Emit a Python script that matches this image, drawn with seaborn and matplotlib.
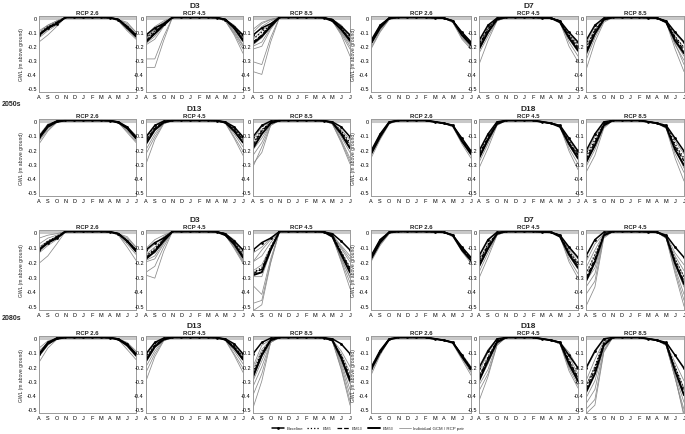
import numpy as np
import pandas as pd
import matplotlib
matplotlib.use('Agg')
import matplotlib.pyplot as plt
from matplotlib.lines import Line2D
import seaborn as sns

# ---------------------------------------------------------------------------
# Data: every curve is (A, S, O, M, J, J) -> the Aug-Oct recession and the
# May-Jul drawdown; the Nov-Apr part comes from the site plateau lists.
# ---------------------------------------------------------------------------
MONTHS = ['A', 'S', 'O', 'N', 'D', 'J', 'F', 'M', 'A', 'M', 'J', 'J']

PLATEAU_D3 = [0.005, 0.005, 0.005, 0.005, 0.005, 0.003]
PLATEAU_D13 = [0.005, 0.005, 0.005, 0.005, 0.005, 0.003]
PLATEAU_D7 = [0.005, 0.005, 0.005, 0.005, 0.003, 0.0]
PLATEAU_D18 = [0.005, 0.005, 0.005, 0.005, -0.005, -0.015]

BASELINE_D3 = (-0.12, -0.07, -0.04, -0.01, -0.06, -0.12)
BASELINE_D13 = (-0.11, -0.03, 0.0, -0.005, -0.04, -0.11)
BASELINE_D7 = (-0.16, -0.05, 0.0, -0.02, -0.10, -0.17)
BASELINE_D18 = (-0.21, -0.09, -0.005, -0.03, -0.12, -0.21)

# ---- 2050s D3
d3_50_r26 = [(-0.10, -0.05, -0.02, -0.01, -0.04, -0.10), (-0.11, -0.06, -0.03, -0.01, -0.05, -0.11),
             (-0.12, -0.07, -0.04, -0.01, -0.06, -0.12), (-0.13, -0.08, -0.04, -0.01, -0.07, -0.13),
             (-0.14, -0.09, -0.05, -0.02, -0.08, -0.14), (-0.17, -0.12, -0.06, -0.02, -0.09, -0.15),
             (-0.09, -0.05, -0.02, -0.01, -0.03, -0.10), (-0.12, -0.06, -0.03, -0.01, -0.07, -0.13)]
d3_50_r26_em = [(-0.11, -0.06, -0.03, -0.01, -0.06, -0.12), (-0.12, -0.07, -0.03, -0.01, -0.06, -0.12),
                (-0.12, -0.07, -0.04, -0.01, -0.07, -0.13)]
d3_50_r45 = [(-0.12, -0.06, -0.02, -0.01, -0.05, -0.12), (-0.13, -0.07, -0.03, -0.01, -0.06, -0.14),
             (-0.15, -0.09, -0.04, -0.01, -0.07, -0.15), (-0.17, -0.11, -0.05, -0.02, -0.08, -0.17),
             (-0.18, -0.13, -0.05, -0.02, -0.09, -0.19), (-0.19, -0.15, -0.06, -0.02, -0.11, -0.22),
             (-0.29, -0.29, -0.13, -0.02, -0.12, -0.25), (-0.35, -0.35, -0.16, -0.02, -0.10, -0.20),
             (-0.14, -0.08, -0.03, -0.01, -0.06, -0.13)]
d3_50_r45_em = [(-0.14, -0.09, -0.04, -0.01, -0.06, -0.14), (-0.16, -0.10, -0.04, -0.01, -0.07, -0.15),
                (-0.17, -0.11, -0.05, -0.01, -0.07, -0.16)]
d3_50_r85 = [(-0.13, -0.06, -0.02, -0.01, -0.06, -0.12), (-0.15, -0.09, -0.04, -0.01, -0.07, -0.14),
             (-0.17, -0.12, -0.05, -0.02, -0.08, -0.15), (-0.19, -0.14, -0.06, -0.02, -0.09, -0.17),
             (-0.20, -0.17, -0.07, -0.02, -0.10, -0.20), (-0.22, -0.20, -0.08, -0.02, -0.12, -0.27),
             (-0.31, -0.33, -0.14, -0.02, -0.11, -0.22), (-0.38, -0.40, -0.17, -0.02, -0.10, -0.18),
             (-0.10, -0.04, -0.01, -0.01, -0.05, -0.12), (-0.08, -0.03, -0.01, -0.01, -0.05, -0.13)]
d3_50_r85_em = [(-0.15, -0.10, -0.05, -0.01, -0.07, -0.14), (-0.17, -0.12, -0.05, -0.01, -0.08, -0.15),
                (-0.18, -0.13, -0.06, -0.02, -0.08, -0.16)]

# ---- 2050s D7
d7_50_r26 = [(-0.16, -0.05, 0.0, -0.02, -0.10, -0.17), (-0.17, -0.06, 0.0, -0.02, -0.11, -0.18),
             (-0.18, -0.07, -0.005, -0.02, -0.12, -0.19), (-0.19, -0.08, -0.01, -0.03, -0.13, -0.20),
             (-0.21, -0.09, -0.01, -0.03, -0.14, -0.21), (-0.22, -0.10, -0.01, -0.03, -0.15, -0.22)]
d7_50_r26_em = [(-0.17, -0.06, 0.0, -0.02, -0.11, -0.18), (-0.18, -0.06, 0.0, -0.02, -0.11, -0.18),
                (-0.18, -0.07, 0.0, -0.02, -0.12, -0.19)]
d7_50_r45 = [(-0.17, -0.06, 0.0, -0.02, -0.11, -0.18), (-0.19, -0.07, -0.005, -0.02, -0.12, -0.20),
             (-0.21, -0.09, -0.01, -0.03, -0.13, -0.22), (-0.23, -0.11, -0.01, -0.03, -0.15, -0.24),
             (-0.25, -0.13, -0.02, -0.03, -0.17, -0.27), (-0.33, -0.16, -0.02, -0.03, -0.20, -0.31)]
d7_50_r45_em = [(-0.19, -0.07, 0.0, -0.02, -0.12, -0.19), (-0.20, -0.08, -0.005, -0.02, -0.13, -0.21),
                (-0.22, -0.10, -0.01, -0.03, -0.14, -0.23)]
d7_50_r85 = [(-0.18, -0.06, 0.0, -0.02, -0.11, -0.18), (-0.21, -0.08, -0.01, -0.03, -0.13, -0.21),
             (-0.24, -0.10, -0.01, -0.03, -0.15, -0.24), (-0.27, -0.12, -0.02, -0.03, -0.17, -0.27),
             (-0.30, -0.14, -0.02, -0.03, -0.19, -0.30), (-0.37, -0.17, -0.03, -0.03, -0.22, -0.38),
             (-0.26, -0.12, -0.015, -0.03, -0.18, -0.33)]
d7_50_r85_em = [(-0.21, -0.08, -0.01, -0.02, -0.13, -0.21), (-0.23, -0.09, -0.01, -0.03, -0.14, -0.23),
                (-0.25, -0.11, -0.01, -0.03, -0.16, -0.25)]

# ---- 2050s D13
d13_50_r26 = [(-0.10, -0.02, 0.0, -0.005, -0.04, -0.10), (-0.11, -0.03, 0.0, -0.005, -0.05, -0.11),
              (-0.12, -0.04, -0.005, -0.01, -0.05, -0.12), (-0.13, -0.05, -0.005, -0.01, -0.06, -0.13),
              (-0.14, -0.06, -0.01, -0.01, -0.07, -0.14), (-0.16, -0.07, -0.01, -0.01, -0.08, -0.15)]
d13_50_r26_em = [(-0.11, -0.03, 0.0, -0.005, -0.05, -0.11), (-0.12, -0.03, 0.0, -0.005, -0.05, -0.12),
                 (-0.12, -0.04, -0.005, -0.01, -0.05, -0.12)]
d13_50_r45 = [(-0.12, -0.03, 0.0, -0.005, -0.05, -0.12), (-0.14, -0.05, -0.005, -0.01, -0.06, -0.13),
              (-0.16, -0.07, -0.01, -0.01, -0.07, -0.15), (-0.20, -0.09, -0.01, -0.01, -0.09, -0.18),
              (-0.23, -0.11, -0.015, -0.01, -0.11, -0.21), (-0.30, -0.13, -0.02, -0.015, -0.12, -0.24)]
d13_50_r45_em = [(-0.13, -0.04, -0.005, -0.01, -0.05, -0.12), (-0.14, -0.05, -0.005, -0.01, -0.06, -0.13),
                 (-0.16, -0.06, -0.01, -0.01, -0.07, -0.15)]
d13_50_r85 = [(-0.13, -0.04, -0.005, -0.01, -0.06, -0.13), (-0.16, -0.06, -0.01, -0.01, -0.07, -0.16),
              (-0.18, -0.09, -0.01, -0.01, -0.09, -0.19), (-0.20, -0.12, -0.02, -0.015, -0.11, -0.22),
              (-0.24, -0.15, -0.02, -0.015, -0.13, -0.26), (-0.30, -0.22, -0.03, -0.02, -0.15, -0.30),
              (-0.32, -0.18, -0.03, -0.02, -0.14, -0.28)]
d13_50_r85_em = [(-0.15, -0.06, -0.01, -0.01, -0.07, -0.15), (-0.17, -0.07, -0.01, -0.01, -0.08, -0.17),
                 (-0.19, -0.09, -0.015, -0.01, -0.09, -0.19)]

# ---- 2050s D18
d18_50_r26 = [(-0.21, -0.09, -0.005, -0.03, -0.12, -0.21), (-0.22, -0.10, -0.01, -0.03, -0.13, -0.22),
              (-0.23, -0.11, -0.01, -0.03, -0.14, -0.23), (-0.24, -0.12, -0.01, -0.04, -0.15, -0.24),
              (-0.26, -0.13, -0.02, -0.04, -0.16, -0.26)]
d18_50_r26_em = [(-0.22, -0.10, -0.01, -0.03, -0.13, -0.22), (-0.22, -0.10, -0.01, -0.03, -0.13, -0.22),
                 (-0.23, -0.11, -0.01, -0.03, -0.14, -0.23)]
d18_50_r45 = [(-0.22, -0.10, -0.01, -0.03, -0.13, -0.22), (-0.24, -0.12, -0.01, -0.03, -0.15, -0.24),
              (-0.26, -0.14, -0.02, -0.04, -0.17, -0.27), (-0.29, -0.16, -0.02, -0.04, -0.19, -0.30),
              (-0.33, -0.19, -0.03, -0.04, -0.21, -0.34)]
d18_50_r45_em = [(-0.23, -0.11, -0.01, -0.03, -0.14, -0.23), (-0.24, -0.12, -0.01, -0.03, -0.15, -0.24),
                 (-0.26, -0.13, -0.02, -0.04, -0.16, -0.26)]
d18_50_r85 = [(-0.23, -0.11, -0.01, -0.03, -0.14, -0.23), (-0.26, -0.14, -0.02, -0.04, -0.17, -0.27),
              (-0.29, -0.17, -0.03, -0.04, -0.20, -0.31), (-0.32, -0.20, -0.04, -0.05, -0.23, -0.36),
              (-0.36, -0.24, -0.05, -0.05, -0.26, -0.42), (-0.30, -0.15, -0.02, -0.04, -0.19, -0.33)]
d18_50_r85_em = [(-0.25, -0.13, -0.02, -0.03, -0.16, -0.26), (-0.27, -0.15, -0.02, -0.04, -0.18, -0.28),
                 (-0.29, -0.17, -0.03, -0.04, -0.20, -0.31)]

# ---- 2080s D3
d3_80_r26 = [(-0.04, -0.02, -0.01, -0.01, -0.03, -0.10), (-0.08, -0.04, -0.02, -0.01, -0.04, -0.10),
             (-0.10, -0.06, -0.03, -0.01, -0.05, -0.11), (-0.12, -0.07, -0.04, -0.01, -0.06, -0.12),
             (-0.13, -0.08, -0.04, -0.01, -0.07, -0.13), (-0.14, -0.09, -0.05, -0.02, -0.08, -0.15),
             (-0.21, -0.16, -0.08, -0.02, -0.10, -0.19), (-0.11, -0.06, -0.03, -0.01, -0.05, -0.12)]
d3_80_r26_em = [(-0.11, -0.06, -0.03, -0.01, -0.06, -0.12), (-0.12, -0.07, -0.03, -0.01, -0.06, -0.12),
                (-0.12, -0.07, -0.04, -0.01, -0.06, -0.13)]
d3_80_r45 = [(-0.11, -0.05, -0.02, -0.01, -0.05, -0.12), (-0.13, -0.08, -0.03, -0.01, -0.06, -0.14),
             (-0.15, -0.10, -0.04, -0.01, -0.07, -0.15), (-0.16, -0.12, -0.05, -0.02, -0.08, -0.16),
             (-0.17, -0.14, -0.06, -0.02, -0.09, -0.18), (-0.19, -0.16, -0.07, -0.02, -0.10, -0.20),
             (-0.20, -0.18, -0.08, -0.02, -0.11, -0.21), (-0.27, -0.23, -0.10, -0.02, -0.10, -0.19),
             (-0.29, -0.31, -0.13, -0.02, -0.09, -0.17)]
d3_80_r45_em = [(-0.16, -0.11, -0.05, -0.01, -0.07, -0.15), (-0.17, -0.12, -0.05, -0.01, -0.08, -0.16),
                (-0.18, -0.13, -0.06, -0.02, -0.08, -0.17)]
d3_80_r85 = [(-0.14, -0.10, -0.04, -0.02, -0.09, -0.16), (-0.20, -0.16, -0.07, -0.02, -0.11, -0.20),
             (-0.26, -0.22, -0.10, -0.02, -0.13, -0.24), (-0.27, -0.25, -0.11, -0.03, -0.15, -0.28),
             (-0.28, -0.27, -0.12, -0.03, -0.17, -0.31), (-0.30, -0.30, -0.13, -0.03, -0.19, -0.34),
             (-0.36, -0.42, -0.18, -0.03, -0.20, -0.38), (-0.48, -0.46, -0.20, -0.03, -0.18, -0.30),
             (-0.53, -0.49, -0.21, -0.02, -0.15, -0.26), (-0.20, -0.12, -0.05, -0.02, -0.10, -0.18)]
d3_80_r85_em = [(-0.27, -0.24, -0.10, -0.02, -0.13, -0.24), (-0.28, -0.25, -0.11, -0.02, -0.14, -0.25),
                (-0.29, -0.27, -0.12, -0.03, -0.15, -0.27)]

# ---- 2080s D7
d7_80_r26 = [(-0.16, -0.05, 0.0, -0.02, -0.10, -0.17), (-0.17, -0.06, 0.0, -0.02, -0.11, -0.18),
             (-0.18, -0.07, -0.005, -0.02, -0.12, -0.19), (-0.19, -0.08, -0.01, -0.03, -0.12, -0.20),
             (-0.20, -0.09, -0.01, -0.03, -0.13, -0.21)]
d7_80_r26_em = [(-0.17, -0.06, 0.0, -0.02, -0.11, -0.18), (-0.17, -0.06, 0.0, -0.02, -0.11, -0.18),
                (-0.18, -0.07, 0.0, -0.02, -0.12, -0.19)]
d7_80_r45 = [(-0.17, -0.06, 0.0, -0.02, -0.11, -0.18), (-0.19, -0.08, -0.005, -0.02, -0.12, -0.20),
             (-0.21, -0.10, -0.01, -0.03, -0.14, -0.22), (-0.24, -0.12, -0.01, -0.03, -0.16, -0.25),
             (-0.27, -0.14, -0.02, -0.03, -0.18, -0.28), (-0.31, -0.17, -0.02, -0.03, -0.20, -0.31)]
d7_80_r45_em = [(-0.20, -0.08, -0.01, -0.02, -0.13, -0.21), (-0.21, -0.09, -0.01, -0.02, -0.14, -0.22),
                (-0.23, -0.11, -0.01, -0.03, -0.15, -0.24)]
d7_80_r85 = [(-0.20, -0.08, -0.01, -0.02, -0.14, -0.22), (-0.24, -0.12, -0.01, -0.03, -0.16, -0.26),
             (-0.28, -0.16, -0.02, -0.03, -0.18, -0.30), (-0.31, -0.20, -0.02, -0.03, -0.20, -0.33),
             (-0.33, -0.24, -0.03, -0.04, -0.22, -0.37), (-0.37, -0.28, -0.03, -0.04, -0.24, -0.42),
             (-0.42, -0.33, -0.03, -0.04, -0.26, -0.46), (-0.50, -0.37, -0.04, -0.04, -0.28, -0.50)]
d7_80_r85_em = [(-0.28, -0.15, -0.02, -0.03, -0.18, -0.30), (-0.31, -0.18, -0.02, -0.03, -0.20, -0.33),
                (-0.33, -0.20, -0.02, -0.03, -0.21, -0.35)]

# ---- 2080s D13
d13_80_r26 = [(-0.07, -0.02, 0.0, -0.005, -0.03, -0.09), (-0.09, -0.03, 0.0, -0.005, -0.04, -0.10),
              (-0.11, -0.03, 0.0, -0.005, -0.05, -0.11), (-0.12, -0.04, -0.005, -0.01, -0.05, -0.12),
              (-0.13, -0.05, -0.005, -0.01, -0.06, -0.13), (-0.17, -0.07, -0.01, -0.01, -0.08, -0.15)]
d13_80_r26_em = [(-0.11, -0.03, 0.0, -0.005, -0.05, -0.11), (-0.11, -0.04, 0.0, -0.005, -0.05, -0.12),
                 (-0.12, -0.04, -0.005, -0.01, -0.05, -0.12)]
d13_80_r45 = [(-0.12, -0.03, 0.0, -0.005, -0.05, -0.12), (-0.14, -0.05, -0.005, -0.01, -0.06, -0.13),
              (-0.17, -0.07, -0.01, -0.01, -0.07, -0.15), (-0.20, -0.09, -0.01, -0.01, -0.09, -0.18),
              (-0.24, -0.11, -0.015, -0.01, -0.11, -0.21), (-0.30, -0.13, -0.02, -0.015, -0.12, -0.24)]
d13_80_r45_em = [(-0.14, -0.04, -0.005, -0.01, -0.06, -0.13), (-0.15, -0.05, -0.005, -0.01, -0.06, -0.14),
                 (-0.16, -0.06, -0.01, -0.01, -0.07, -0.15)]
d13_80_r85 = [(-0.20, -0.05, -0.01, -0.01, -0.09, -0.20), (-0.22, -0.08, -0.01, -0.015, -0.11, -0.24),
              (-0.25, -0.10, -0.01, -0.015, -0.13, -0.28), (-0.28, -0.13, -0.02, -0.02, -0.15, -0.32),
              (-0.30, -0.16, -0.02, -0.02, -0.17, -0.36), (-0.34, -0.20, -0.03, -0.02, -0.19, -0.40),
              (-0.40, -0.25, -0.03, -0.02, -0.21, -0.44), (-0.49, -0.30, -0.03, -0.02, -0.22, -0.47)]
d13_80_r85_em = [(-0.24, -0.10, -0.01, -0.015, -0.12, -0.26), (-0.26, -0.11, -0.01, -0.015, -0.13, -0.28),
                 (-0.27, -0.12, -0.015, -0.015, -0.14, -0.30)]

# ---- 2080s D18
d18_80_r26 = [(-0.20, -0.08, -0.005, -0.03, -0.11, -0.20), (-0.21, -0.09, -0.005, -0.03, -0.12, -0.21),
              (-0.22, -0.10, -0.01, -0.03, -0.13, -0.22), (-0.24, -0.11, -0.01, -0.03, -0.14, -0.24),
              (-0.26, -0.12, -0.01, -0.04, -0.15, -0.26)]
d18_80_r26_em = [(-0.21, -0.09, -0.005, -0.03, -0.12, -0.21), (-0.22, -0.09, -0.01, -0.03, -0.12, -0.22),
                 (-0.22, -0.10, -0.01, -0.03, -0.13, -0.22)]
d18_80_r45 = [(-0.20, -0.08, -0.005, -0.03, -0.10, -0.21), (-0.24, -0.10, -0.01, -0.03, -0.13, -0.25),
              (-0.27, -0.14, -0.02, -0.03, -0.16, -0.28), (-0.30, -0.18, -0.03, -0.04, -0.19, -0.31),
              (-0.33, -0.22, -0.04, -0.04, -0.21, -0.33), (-0.37, -0.25, -0.05, -0.04, -0.23, -0.35),
              (-0.44, -0.27, -0.05, -0.04, -0.20, -0.30)]
d18_80_r45_em = [(-0.27, -0.13, -0.02, -0.03, -0.15, -0.27), (-0.28, -0.14, -0.02, -0.03, -0.16, -0.28),
                 (-0.30, -0.16, -0.03, -0.03, -0.18, -0.30)]
d18_80_r85 = [(-0.22, -0.10, -0.01, -0.03, -0.12, -0.22), (-0.30, -0.15, -0.02, -0.04, -0.17, -0.30),
              (-0.33, -0.20, -0.03, -0.04, -0.20, -0.35), (-0.38, -0.25, -0.05, -0.04, -0.23, -0.40),
              (-0.42, -0.30, -0.06, -0.05, -0.26, -0.45), (-0.46, -0.36, -0.08, -0.05, -0.28, -0.50),
              (-0.50, -0.43, -0.09, -0.05, -0.28, -0.53), (-0.53, -0.47, -0.10, -0.05, -0.27, -0.55)]
d18_80_r85_em = [(-0.34, -0.20, -0.03, -0.04, -0.20, -0.36), (-0.36, -0.22, -0.04, -0.04, -0.22, -0.38),
                 (-0.38, -0.25, -0.05, -0.04, -0.23, -0.40)]

RCP_50 = ['RCP 2.6', 'RCP 4.5', 'RCP 8.5']
RCP_80_TOP = ['RCP 2.6', 'RCP 4.5', 'RCP 4.5']
RCP_80_BOT = ['RCP 2.6', 'RCP 4.5', 'RCP 8.5']

SITES = {
    'D3': (BASELINE_D3, PLATEAU_D3), 'D7': (BASELINE_D7, PLATEAU_D7),
    'D13': (BASELINE_D13, PLATEAU_D13), 'D18': (BASELINE_D18, PLATEAU_D18),
}

# each row: two groups of (site, rcp labels, gcm lists, em lists)
ROWS = [
    [('D3', RCP_50, [d3_50_r26, d3_50_r45, d3_50_r85], [d3_50_r26_em, d3_50_r45_em, d3_50_r85_em]),
     ('D7', RCP_50, [d7_50_r26, d7_50_r45, d7_50_r85], [d7_50_r26_em, d7_50_r45_em, d7_50_r85_em])],
    [('D13', RCP_50, [d13_50_r26, d13_50_r45, d13_50_r85], [d13_50_r26_em, d13_50_r45_em, d13_50_r85_em]),
     ('D18', RCP_50, [d18_50_r26, d18_50_r45, d18_50_r85], [d18_50_r26_em, d18_50_r45_em, d18_50_r85_em])],
    [('D3', RCP_80_TOP, [d3_80_r26, d3_80_r45, d3_80_r85], [d3_80_r26_em, d3_80_r45_em, d3_80_r85_em]),
     ('D7', RCP_80_TOP, [d7_80_r26, d7_80_r45, d7_80_r85], [d7_80_r26_em, d7_80_r45_em, d7_80_r85_em])],
    [('D13', RCP_80_BOT, [d13_80_r26, d13_80_r45, d13_80_r85], [d13_80_r26_em, d13_80_r45_em, d13_80_r85_em]),
     ('D18', RCP_80_BOT, [d18_80_r26, d18_80_r45, d18_80_r85], [d18_80_r26_em, d18_80_r45_em, d18_80_r85_em])],
]


def full_curve(c, plateau):
    return list(c[:3]) + list(plateau) + list(c[3:])


# =============================================================================
# Layout (pixel boxes of the reference, 685 x 435)
# =============================================================================
W, H = 685, 435
ROW_PX = [(17, 93), (120, 197), (231, 311), (337, 414)]
COL_PX = [(39, 136), (146, 243), (253, 350), (371, 471), (479, 578), (586, 684)]

sns.set_theme(style='white')
plt.rcParams['font.family'] = ['Liberation Sans', 'DejaVu Sans']
plt.rcParams['mathtext.fontset'] = 'custom'
plt.rcParams['mathtext.rm'] = 'Liberation Sans'
plt.rcParams['mathtext.it'] = 'Liberation Sans'

fig = plt.figure(figsize=(W / 100, H / 100), dpi=100)
fig.patch.set_facecolor('white')

x = np.arange(12)
GCM_COLOR = '#8a8a8a'
EM_STYLES = [(':', 0.9), ('--', 0.9), ('-', 1.4)]

for r, row in enumerate(ROWS):
    top, bot = ROW_PX[r]
    for g, (site, rcps, gcms, ems) in enumerate(row):
        baseline, plateau = SITES[site]
        for k in range(3):
            x0, x1 = COL_PX[g * 3 + k]
            ax = fig.add_axes([x0 / W, 1 - bot / H, (x1 - x0) / W, (bot - top) / H])
            ax.axhline(0, color='#c8c8c8', lw=2.2, zorder=0)

            rows = []
            for i, c in enumerate(gcms[k]):
                for m, v in zip(x, full_curve(c, plateau)):
                    rows.append({'m': m, 'gwl': v, 'run': i})
            df = pd.DataFrame(rows)
            sns.lineplot(data=df, x='m', y='gwl', units='run', estimator=None,
                         color=GCM_COLOR, lw=0.55, ax=ax, legend=False)

            for em, (ls, lw) in zip(ems[k], EM_STYLES):
                sns.lineplot(x=x, y=full_curve(em, plateau), color='black', lw=lw,
                             linestyle=ls, ax=ax, legend=False)
            sns.lineplot(x=x, y=full_curve(baseline, plateau), color='black', lw=1.1,
                         marker='o', markersize=2.0, markeredgewidth=0, ax=ax, legend=False)

            ax.set_xlim(0, 11)
            ax.set_ylim(-0.525, 0.015)
            ax.set_xticks(x)
            ax.set_xticklabels(MONTHS)
            ax.set_yticks([0, -0.1, -0.2, -0.3, -0.4, -0.5])
            ax.set_yticklabels(['0', '-0.1', '-0.2', '-0.3', '-0.4', '-0.5'])
            ax.tick_params(axis='both', labelsize=4, length=1.5, width=0.4,
                           direction='in', pad=1.5, colors='#777777', labelcolor='black')
            ax.set_xlabel('')
            if k == 0:
                ax.set_ylabel('GWL (m above ground)', fontsize=3.6, labelpad=2)
            else:
                ax.set_ylabel('')
            for sp in ax.spines.values():
                sp.set_color('#9a9a9a')
                sp.set_linewidth(0.7)
            ax.set_title(rcps[k], fontsize=4.3, fontweight='bold', pad=1.2)

        # group title over the middle panel
        mx0, mx1 = COL_PX[g * 3 + 1]
        fig.text((mx0 + mx1) / 2 / W, 1 - (top - 7.4) / H, site, ha='center', va='bottom',
                 fontsize=6, fontweight='bold')

fig.text(2 / W, 1 - 105 / H, '2050s', ha='left', va='center', fontsize=5, fontweight='bold')
fig.text(2 / W, 1 - 319 / H, '2080s', ha='left', va='center', fontsize=5, fontweight='bold')

handles = [
    Line2D([], [], color='black', lw=1.1, marker='o', markersize=2.0, markeredgewidth=0),
    Line2D([], [], color='black', lw=0.9, linestyle=':'),
    Line2D([], [], color='black', lw=0.9, linestyle='--'),
    Line2D([], [], color='black', lw=1.4),
    Line2D([], [], color=GCM_COLOR, lw=0.55),
]
labels = ['Baseline', r'EM$_5$', r'EM$_{10}$', r'EM$_{50}$', 'Individual GCM / RCP pair']
fig.legend(handles, labels, loc='center', bbox_to_anchor=(368 / W, 1 - 429 / H), ncol=5,
           frameon=False, fontsize=3.2, handlelength=2.8, columnspacing=1.0, handletextpad=0.5)

fig.savefig('out.png', dpi=100, facecolor='white')
